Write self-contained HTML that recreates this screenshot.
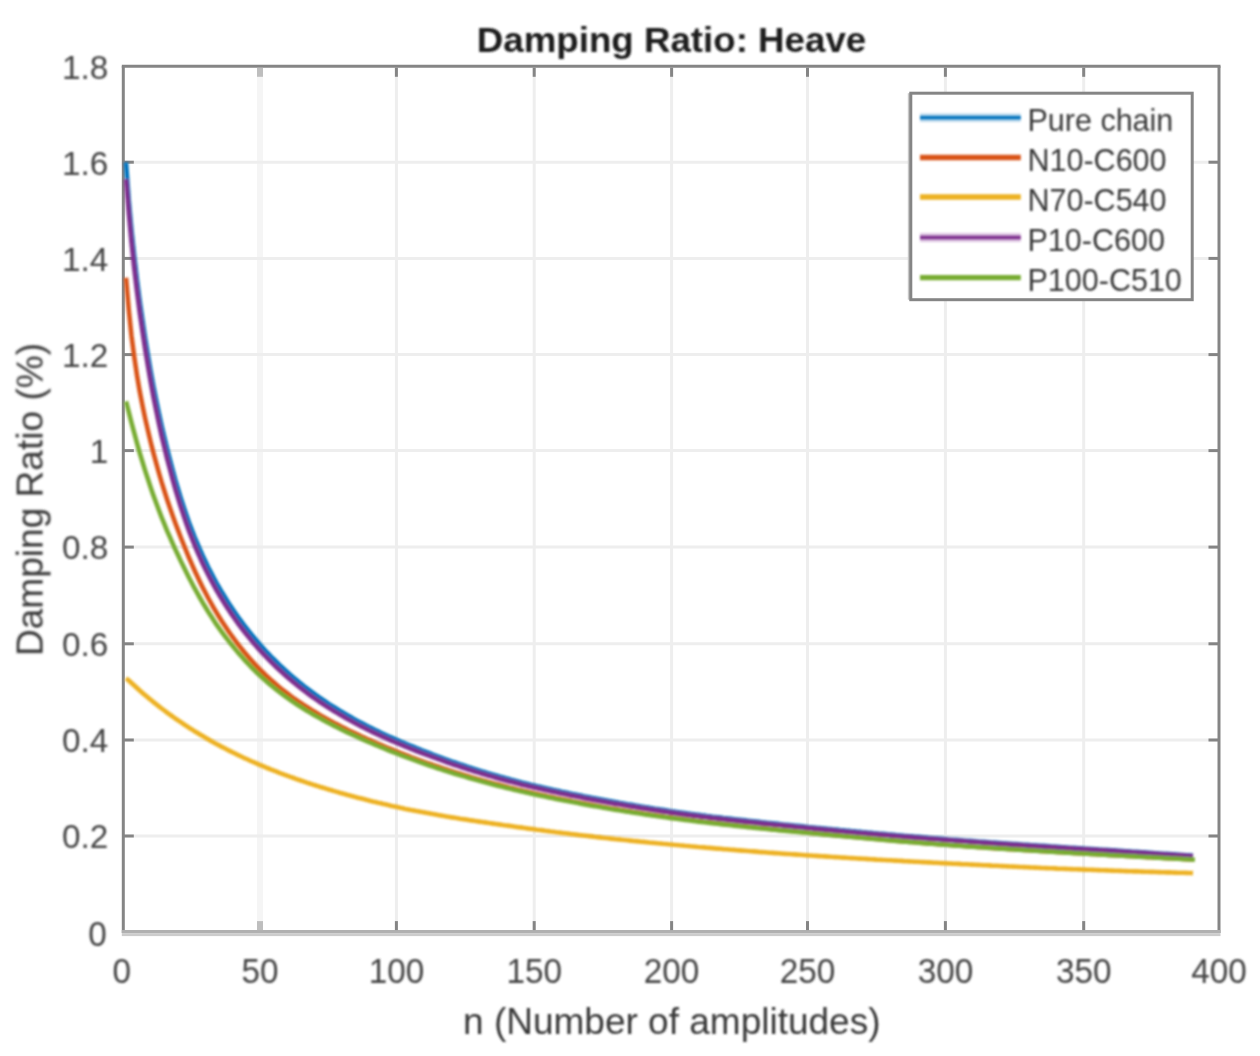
<!DOCTYPE html>
<html lang="en"><head><meta charset="utf-8"><title>Damping Ratio: Heave</title>
<style>html,body{margin:0;padding:0;background:#fff;}body{width:1260px;height:1056px;position:relative;overflow:hidden;font-family:"Liberation Sans",Arial,sans-serif;}</style>
</head><body>
<svg width="1260" height="1056" viewBox="0 0 1260 1056" style="display:block;position:absolute;left:0;top:0">
<defs><filter id="soft" filterUnits="userSpaceOnUse" x="0" y="0" width="1260" height="1056"><feGaussianBlur stdDeviation="0.8"/></filter></defs>
<rect x="0" y="0" width="1260" height="1056" fill="#ffffff"/>
<g stroke="#eeeeee" stroke-width="3" fill="none">
<line x1="260.0" y1="66.3" x2="260.0" y2="931.6" stroke="#f5f5f5" stroke-width="6"/>
<line x1="396.4" y1="66.3" x2="396.4" y2="931.6"/>
<line x1="534.2" y1="66.3" x2="534.2" y2="931.6"/>
<line x1="671.6" y1="66.3" x2="671.6" y2="931.6"/>
<line x1="807.5" y1="66.3" x2="807.5" y2="931.6"/>
<line x1="945.4" y1="66.3" x2="945.4" y2="931.6"/>
<line x1="1083.7" y1="66.3" x2="1083.7" y2="931.6"/>
<line x1="123.3" y1="836.0" x2="1219.0" y2="836.0"/>
<line x1="123.3" y1="740.0" x2="1219.0" y2="740.0"/>
<line x1="123.3" y1="643.8" x2="1219.0" y2="643.8"/>
<line x1="123.3" y1="547.1" x2="1219.0" y2="547.1"/>
<line x1="123.3" y1="450.6" x2="1219.0" y2="450.6"/>
<line x1="123.3" y1="354.6" x2="1219.0" y2="354.6"/>
<line x1="123.3" y1="258.4" x2="1219.0" y2="258.4"/>
<line x1="123.3" y1="162.2" x2="1219.0" y2="162.2"/>
</g>
<rect x="121.8" y="933.1" width="1098.7" height="3" fill="#cccccc"/>
<g stroke="#858585" stroke-width="3" fill="none">
<line x1="121.8" y1="66.3" x2="1220.5" y2="66.3"/>
<line x1="123.3" y1="66.3" x2="123.3" y2="933.1"/>
<line x1="1219.0" y1="66.3" x2="1219.0" y2="933.1"/>
<line x1="121.8" y1="931.6" x2="1220.5" y2="931.6" stroke="#b0b0b0"/>
<line x1="260.0" y1="67.8" x2="260.0" y2="76.8" stroke="#bebebe" stroke-width="6"/>
<line x1="260.0" y1="930.1" x2="260.0" y2="921.1" stroke="#bebebe" stroke-width="6"/>
<line x1="396.4" y1="67.8" x2="396.4" y2="76.8"/>
<line x1="396.4" y1="930.1" x2="396.4" y2="921.1"/>
<line x1="534.2" y1="67.8" x2="534.2" y2="76.8"/>
<line x1="534.2" y1="930.1" x2="534.2" y2="921.1"/>
<line x1="671.6" y1="67.8" x2="671.6" y2="76.8"/>
<line x1="671.6" y1="930.1" x2="671.6" y2="921.1"/>
<line x1="807.5" y1="67.8" x2="807.5" y2="76.8"/>
<line x1="807.5" y1="930.1" x2="807.5" y2="921.1"/>
<line x1="945.4" y1="67.8" x2="945.4" y2="76.8"/>
<line x1="945.4" y1="930.1" x2="945.4" y2="921.1"/>
<line x1="1083.7" y1="67.8" x2="1083.7" y2="76.8"/>
<line x1="1083.7" y1="930.1" x2="1083.7" y2="921.1"/>
<line x1="123.3" y1="836.0" x2="133.8" y2="836.0"/>
<line x1="1219.0" y1="836.0" x2="1208.5" y2="836.0"/>
<line x1="123.3" y1="740.0" x2="133.8" y2="740.0"/>
<line x1="1219.0" y1="740.0" x2="1208.5" y2="740.0"/>
<line x1="123.3" y1="643.8" x2="133.8" y2="643.8"/>
<line x1="1219.0" y1="643.8" x2="1208.5" y2="643.8"/>
<line x1="123.3" y1="547.1" x2="133.8" y2="547.1"/>
<line x1="1219.0" y1="547.1" x2="1208.5" y2="547.1"/>
<line x1="123.3" y1="450.6" x2="133.8" y2="450.6"/>
<line x1="1219.0" y1="450.6" x2="1208.5" y2="450.6"/>
<line x1="123.3" y1="354.6" x2="133.8" y2="354.6"/>
<line x1="1219.0" y1="354.6" x2="1208.5" y2="354.6"/>
<line x1="123.3" y1="258.4" x2="133.8" y2="258.4"/>
<line x1="1219.0" y1="258.4" x2="1208.5" y2="258.4"/>
<line x1="123.3" y1="162.2" x2="133.8" y2="162.2"/>
<line x1="1219.0" y1="162.2" x2="1208.5" y2="162.2"/>
</g>
<g fill="none" stroke-width="4.6" stroke-linejoin="round" stroke-linecap="butt" filter="url(#soft)">
<polyline stroke="#0072BD" points="126.0,162.4 128.8,200.6 131.5,230.1 134.3,256.6 137.0,279.8 139.7,300.7 142.5,320.1 145.2,338.3 148.0,355.4 150.7,371.3 153.4,386.2 156.2,400.1 158.9,413.3 161.6,425.7 164.4,437.6 167.1,448.8 169.9,459.6 172.6,469.9 175.3,479.8 178.1,489.2 180.8,498.1 183.6,506.7 186.3,514.8 189.0,522.5 191.8,529.8 194.5,536.8 197.3,543.4 200.0,549.7 202.7,555.8 205.5,561.6 208.2,567.2 211.0,572.6 213.7,577.8 216.4,582.8 219.2,587.6 221.9,592.3 224.7,596.8 227.4,601.2 230.1,605.4 232.9,609.5 235.6,613.5 238.3,617.4 241.1,621.2 243.8,624.8 246.6,628.4 249.3,631.9 252.0,635.3 254.8,638.6 257.5,641.8 260.3,645.0 263.0,648.0 265.7,651.0 268.5,653.9 271.2,656.8 274.0,659.5 276.7,662.2 279.4,664.9 282.2,667.5 284.9,670.0 287.7,672.5 290.4,674.9 293.1,677.2 295.9,679.5 298.6,681.8 301.4,684.0 304.1,686.2 306.8,688.3 309.6,690.4 312.3,692.4 315.0,694.4 317.8,696.3 320.5,698.3 323.3,700.1 326.0,702.0 328.7,703.8 331.5,705.6 334.2,707.3 337.0,709.0 339.7,710.7 342.4,712.3 345.2,714.0 347.9,715.6 350.7,717.1 353.4,718.7 356.1,720.2 358.9,721.7 361.6,723.1 364.4,724.6 367.1,726.0 369.8,727.4 372.6,728.7 375.3,730.1 378.1,731.4 380.8,732.7 383.5,734.0 386.3,735.3 389.0,736.5 391.7,737.7 394.5,738.9 397.2,740.1 400.0,741.3 402.7,742.5 405.4,743.6 408.2,744.8 410.9,745.9 413.7,747.0 416.4,748.1 419.1,749.2 421.9,750.3 424.6,751.4 427.4,752.5 430.1,753.5 432.8,754.6 435.6,755.6 438.3,756.6 441.1,757.7 443.8,758.7 446.5,759.6 449.3,760.6 452.0,761.6 454.7,762.5 457.5,763.5 460.2,764.4 463.0,765.3 465.7,766.2 468.4,767.1 471.2,768.0 473.9,768.9 476.7,769.8 479.4,770.6 482.1,771.5 484.9,772.3 487.6,773.1 490.4,773.9 493.1,774.7 495.8,775.5 498.6,776.3 501.3,777.1 504.1,777.8 506.8,778.6 509.5,779.3 512.3,780.1 515.0,780.8 517.8,781.5 520.5,782.2 523.2,782.9 526.0,783.6 528.7,784.2 531.4,784.9 534.2,785.5 536.9,786.2 539.7,786.8 542.4,787.4 545.1,788.1 547.9,788.7 550.6,789.3 553.4,789.9 556.1,790.5 558.8,791.1 561.6,791.7 564.3,792.2 567.1,792.8 569.8,793.4 572.5,794.0 575.3,794.5 578.0,795.1 580.8,795.6 583.5,796.2 586.2,796.7 589.0,797.2 591.7,797.8 594.5,798.3 597.2,798.8 599.9,799.3 602.7,799.8 605.4,800.3 608.1,800.8 610.9,801.3 613.6,801.8 616.4,802.3 619.1,802.8 621.8,803.2 624.6,803.7 627.3,804.2 630.1,804.6 632.8,805.1 635.5,805.6 638.3,806.0 641.0,806.5 643.8,806.9 646.5,807.4 649.2,807.8 652.0,808.2 654.7,808.7 657.5,809.1 660.2,809.5 662.9,809.9 665.7,810.3 668.4,810.7 671.1,811.2 673.9,811.6 676.6,812.0 679.4,812.4 682.1,812.7 684.8,813.1 687.6,813.5 690.3,813.9 693.1,814.2 695.8,814.6 698.5,814.9 701.3,815.3 704.0,815.6 706.8,816.0 709.5,816.3 712.2,816.7 715.0,817.0 717.7,817.3 720.5,817.6 723.2,818.0 725.9,818.3 728.7,818.6 731.4,818.9 734.2,819.2 736.9,819.5 739.6,819.8 742.4,820.1 745.1,820.4 747.8,820.7 750.6,821.0 753.3,821.3 756.1,821.6 758.8,821.9 761.5,822.2 764.3,822.5 767.0,822.8 769.8,823.0 772.5,823.3 775.2,823.6 778.0,823.9 780.7,824.2 783.5,824.5 786.2,824.7 788.9,825.0 791.7,825.3 794.4,825.6 797.2,825.8 799.9,826.1 802.6,826.4 805.4,826.7 808.1,827.0 810.9,827.2 813.6,827.5 816.3,827.8 819.1,828.0 821.8,828.3 824.5,828.6 827.3,828.9 830.0,829.1 832.8,829.4 835.5,829.6 838.2,829.9 841.0,830.2 843.7,830.4 846.5,830.7 849.2,830.9 851.9,831.2 854.7,831.4 857.4,831.7 860.2,831.9 862.9,832.2 865.6,832.4 868.4,832.7 871.1,832.9 873.9,833.2 876.6,833.4 879.3,833.7 882.1,833.9 884.8,834.1 887.6,834.4 890.3,834.6 893.0,834.8 895.8,835.1 898.5,835.3 901.2,835.5 904.0,835.8 906.7,836.0 909.5,836.2 912.2,836.4 914.9,836.7 917.7,836.9 920.4,837.1 923.2,837.3 925.9,837.5 928.6,837.8 931.4,838.0 934.1,838.2 936.9,838.4 939.6,838.6 942.3,838.8 945.1,839.0 947.8,839.3 950.6,839.5 953.3,839.7 956.0,839.9 958.8,840.1 961.5,840.3 964.2,840.5 967.0,840.7 969.7,840.9 972.5,841.1 975.2,841.3 977.9,841.5 980.7,841.7 983.4,841.9 986.2,842.1 988.9,842.3 991.6,842.5 994.4,842.6 997.1,842.8 999.9,843.0 1002.6,843.2 1005.3,843.4 1008.1,843.6 1010.8,843.8 1013.6,844.0 1016.3,844.1 1019.0,844.3 1021.8,844.5 1024.5,844.7 1027.3,844.9 1030.0,845.1 1032.7,845.2 1035.5,845.4 1038.2,845.6 1040.9,845.8 1043.7,845.9 1046.4,846.1 1049.2,846.3 1051.9,846.5 1054.6,846.6 1057.4,846.8 1060.1,847.0 1062.9,847.2 1065.6,847.3 1068.3,847.5 1071.1,847.7 1073.8,847.8 1076.6,848.0 1079.3,848.2 1082.0,848.3 1084.8,848.5 1087.5,848.7 1090.3,848.9 1093.0,849.0 1095.7,849.2 1098.5,849.4 1101.2,849.5 1104.0,849.7 1106.7,849.9 1109.4,850.1 1112.2,850.3 1114.9,850.4 1117.6,850.6 1120.4,850.8 1123.1,851.0 1125.9,851.2 1128.6,851.3 1131.3,851.5 1134.1,851.7 1136.8,851.9 1139.6,852.1 1142.3,852.3 1145.0,852.4 1147.8,852.6 1150.5,852.8 1153.3,853.0 1156.0,853.2 1158.7,853.4 1161.5,853.5 1164.2,853.7 1167.0,853.9 1169.7,854.1 1172.4,854.3 1175.2,854.4 1177.9,854.6 1180.7,854.8 1183.4,855.0 1186.1,855.2 1188.9,855.3 1191.6,855.5 1193.0,855.6"/>
<polyline stroke="#D95319" points="126.0,277.8 128.8,310.1 131.5,336.0 134.3,357.3 137.0,375.4 139.7,391.3 142.5,405.6 145.2,418.6 148.0,430.8 150.7,442.2 153.4,452.9 156.2,463.1 158.9,472.8 161.6,482.1 164.4,491.0 167.1,499.5 169.9,507.7 172.6,515.5 175.3,523.0 178.1,530.4 180.8,537.5 183.6,544.5 186.3,551.2 189.0,557.8 191.8,564.1 194.5,570.2 197.3,576.2 200.0,581.9 202.7,587.4 205.5,592.8 208.2,598.0 211.0,603.0 213.7,607.8 216.4,612.4 219.2,617.0 221.9,621.3 224.7,625.5 227.4,629.6 230.1,633.5 232.9,637.3 235.6,641.0 238.3,644.6 241.1,648.1 243.8,651.5 246.6,654.7 249.3,657.9 252.0,661.0 254.8,664.1 257.5,667.0 260.3,669.8 263.0,672.5 265.7,675.2 268.5,677.8 271.2,680.2 274.0,682.6 276.7,685.0 279.4,687.3 282.2,689.5 284.9,691.6 287.7,693.7 290.4,695.8 293.1,697.8 295.9,699.7 298.6,701.6 301.4,703.5 304.1,705.3 306.8,707.0 309.6,708.8 312.3,710.5 315.0,712.1 317.8,713.8 320.5,715.4 323.3,717.0 326.0,718.5 328.7,720.0 331.5,721.5 334.2,723.0 337.0,724.4 339.7,725.8 342.4,727.2 345.2,728.6 347.9,730.0 350.7,731.3 353.4,732.6 356.1,733.9 358.9,735.2 361.6,736.5 364.4,737.7 367.1,739.0 369.8,740.2 372.6,741.4 375.3,742.6 378.1,743.8 380.8,744.9 383.5,746.1 386.3,747.3 389.0,748.4 391.7,749.5 394.5,750.6 397.2,751.7 400.0,752.8 402.7,753.9 405.4,755.0 408.2,756.0 410.9,757.1 413.7,758.1 416.4,759.1 419.1,760.1 421.9,761.1 424.6,762.1 427.4,763.1 430.1,764.0 432.8,765.0 435.6,765.9 438.3,766.8 441.1,767.7 443.8,768.6 446.5,769.5 449.3,770.4 452.0,771.3 454.7,772.1 457.5,773.0 460.2,773.8 463.0,774.6 465.7,775.5 468.4,776.3 471.2,777.1 473.9,777.9 476.7,778.7 479.4,779.4 482.1,780.2 484.9,780.9 487.6,781.7 490.4,782.4 493.1,783.2 495.8,783.9 498.6,784.6 501.3,785.3 504.1,786.0 506.8,786.7 509.5,787.4 512.3,788.0 515.0,788.7 517.8,789.4 520.5,790.0 523.2,790.7 526.0,791.3 528.7,791.9 531.4,792.5 534.2,793.2 536.9,793.8 539.7,794.4 542.4,795.0 545.1,795.6 547.9,796.2 550.6,796.7 553.4,797.3 556.1,797.9 558.8,798.4 561.6,799.0 564.3,799.5 567.1,800.1 569.8,800.6 572.5,801.2 575.3,801.7 578.0,802.2 580.8,802.8 583.5,803.3 586.2,803.8 589.0,804.3 591.7,804.8 594.5,805.3 597.2,805.8 599.9,806.3 602.7,806.8 605.4,807.2 608.1,807.7 610.9,808.2 613.6,808.6 616.4,809.1 619.1,809.6 621.8,810.0 624.6,810.4 627.3,810.9 630.1,811.3 632.8,811.8 635.5,812.2 638.3,812.6 641.0,813.0 643.8,813.5 646.5,813.9 649.2,814.3 652.0,814.7 654.7,815.1 657.5,815.5 660.2,815.9 662.9,816.3 665.7,816.7 668.4,817.0 671.1,817.4 673.9,817.8 676.6,818.2 679.4,818.5 682.1,818.9 684.8,819.3 687.6,819.6 690.3,820.0 693.1,820.3 695.8,820.7 698.5,821.0 701.3,821.3 704.0,821.7 706.8,822.0 709.5,822.3 712.2,822.6 715.0,823.0 717.7,823.3 720.5,823.6 723.2,823.9 725.9,824.2 728.7,824.5 731.4,824.8 734.2,825.1 736.9,825.4 739.6,825.7 742.4,826.0 745.1,826.3 747.8,826.6 750.6,826.9 753.3,827.2 756.1,827.5 758.8,827.7 761.5,828.0 764.3,828.3 767.0,828.6 769.8,828.9 772.5,829.1 775.2,829.4 778.0,829.7 780.7,830.0 783.5,830.2 786.2,830.5 788.9,830.8 791.7,831.0 794.4,831.3 797.2,831.6 799.9,831.8 802.6,832.1 805.4,832.3 808.1,832.6 810.9,832.9 813.6,833.1 816.3,833.4 819.1,833.6 821.8,833.9 824.5,834.2 827.3,834.4 830.0,834.7 832.8,834.9 835.5,835.2 838.2,835.4 841.0,835.7 843.7,836.0 846.5,836.2 849.2,836.5 851.9,836.7 854.7,837.0 857.4,837.2 860.2,837.5 862.9,837.7 865.6,838.0 868.4,838.2 871.1,838.5 873.9,838.7 876.6,839.0 879.3,839.2 882.1,839.5 884.8,839.7 887.6,840.0 890.3,840.2 893.0,840.4 895.8,840.7 898.5,840.9 901.2,841.1 904.0,841.4 906.7,841.6 909.5,841.8 912.2,842.0 914.9,842.3 917.7,842.5 920.4,842.7 923.2,842.9 925.9,843.2 928.6,843.4 931.4,843.6 934.1,843.8 936.9,844.0 939.6,844.2 942.3,844.4 945.1,844.6 947.8,844.8 950.6,845.0 953.3,845.2 956.0,845.4 958.8,845.6 961.5,845.8 964.2,846.0 967.0,846.2 969.7,846.4 972.5,846.6 975.2,846.8 977.9,847.0 980.7,847.1 983.4,847.3 986.2,847.5 988.9,847.7 991.6,847.9 994.4,848.1 997.1,848.2 999.9,848.4 1002.6,848.6 1005.3,848.8 1008.1,848.9 1010.8,849.1 1013.6,849.3 1016.3,849.5 1019.0,849.6 1021.8,849.8 1024.5,850.0 1027.3,850.2 1030.0,850.3 1032.7,850.5 1035.5,850.7 1038.2,850.8 1040.9,851.0 1043.7,851.2 1046.4,851.3 1049.2,851.5 1051.9,851.6 1054.6,851.8 1057.4,852.0 1060.1,852.1 1062.9,852.3 1065.6,852.5 1068.3,852.6 1071.1,852.8 1073.8,852.9 1076.6,853.1 1079.3,853.3 1082.0,853.4 1084.8,853.6 1087.5,853.7 1090.3,853.9 1093.0,854.0 1095.7,854.2 1098.5,854.4 1101.2,854.5 1104.0,854.7 1106.7,854.8 1109.4,855.0 1112.2,855.1 1114.9,855.3 1117.6,855.4 1120.4,855.6 1123.1,855.7 1125.9,855.9 1128.6,856.0 1131.3,856.2 1134.1,856.3 1136.8,856.5 1139.6,856.6 1142.3,856.8 1145.0,856.9 1147.8,857.1 1150.5,857.2 1153.3,857.4 1156.0,857.5 1158.7,857.7 1161.5,857.8 1164.2,858.0 1167.0,858.1 1169.7,858.3 1172.4,858.4 1175.2,858.6 1177.9,858.7 1180.7,858.8 1183.4,859.0 1186.1,859.1 1188.9,859.3 1191.6,859.4 1193.0,859.5"/>
<polyline stroke="#EDB120" points="126.0,678.3 128.8,680.5 131.5,683.0 134.3,685.5 137.0,688.0 139.7,690.5 142.5,692.9 145.2,695.2 148.0,697.6 150.7,699.8 153.4,702.1 156.2,704.2 158.9,706.4 161.6,708.5 164.4,710.5 167.1,712.6 169.9,714.6 172.6,716.5 175.3,718.5 178.1,720.4 180.8,722.2 183.6,724.1 186.3,725.9 189.0,727.7 191.8,729.4 194.5,731.2 197.3,732.8 200.0,734.5 202.7,736.1 205.5,737.7 208.2,739.3 211.0,740.9 213.7,742.4 216.4,743.9 219.2,745.4 221.9,746.9 224.7,748.3 227.4,749.7 230.1,751.1 232.9,752.5 235.6,753.8 238.3,755.2 241.1,756.5 243.8,757.8 246.6,759.0 249.3,760.3 252.0,761.5 254.8,762.7 257.5,763.9 260.3,765.1 263.0,766.2 265.7,767.4 268.5,768.5 271.2,769.6 274.0,770.7 276.7,771.7 279.4,772.8 282.2,773.8 284.9,774.8 287.7,775.9 290.4,776.9 293.1,777.8 295.9,778.8 298.6,779.8 301.4,780.7 304.1,781.6 306.8,782.6 309.6,783.5 312.3,784.4 315.0,785.2 317.8,786.1 320.5,787.0 323.3,787.8 326.0,788.6 328.7,789.5 331.5,790.3 334.2,791.1 337.0,791.9 339.7,792.7 342.4,793.4 345.2,794.2 347.9,795.0 350.7,795.7 353.4,796.4 356.1,797.2 358.9,797.9 361.6,798.6 364.4,799.3 367.1,800.0 369.8,800.7 372.6,801.4 375.3,802.0 378.1,802.7 380.8,803.3 383.5,804.0 386.3,804.6 389.0,805.2 391.7,805.9 394.5,806.5 397.2,807.1 400.0,807.7 402.7,808.3 405.4,808.9 408.2,809.4 410.9,810.0 413.7,810.5 416.4,811.1 419.1,811.6 421.9,812.1 424.6,812.6 427.4,813.1 430.1,813.6 432.8,814.1 435.6,814.6 438.3,815.1 441.1,815.5 443.8,816.0 446.5,816.5 449.3,816.9 452.0,817.4 454.7,817.8 457.5,818.2 460.2,818.7 463.0,819.1 465.7,819.5 468.4,819.9 471.2,820.4 473.9,820.8 476.7,821.2 479.4,821.6 482.1,822.0 484.9,822.4 487.6,822.8 490.4,823.2 493.1,823.6 495.8,824.0 498.6,824.4 501.3,824.8 504.1,825.2 506.8,825.5 509.5,825.9 512.3,826.3 515.0,826.7 517.8,827.1 520.5,827.4 523.2,827.8 526.0,828.2 528.7,828.6 531.4,828.9 534.2,829.3 536.9,829.7 539.7,830.0 542.4,830.4 545.1,830.8 547.9,831.1 550.6,831.5 553.4,831.8 556.1,832.2 558.8,832.5 561.6,832.9 564.3,833.2 567.1,833.5 569.8,833.9 572.5,834.2 575.3,834.5 578.0,834.9 580.8,835.2 583.5,835.5 586.2,835.8 589.0,836.1 591.7,836.4 594.5,836.8 597.2,837.1 599.9,837.4 602.7,837.7 605.4,838.0 608.1,838.3 610.9,838.6 613.6,838.9 616.4,839.2 619.1,839.4 621.8,839.7 624.6,840.0 627.3,840.3 630.1,840.6 632.8,840.9 635.5,841.1 638.3,841.4 641.0,841.7 643.8,841.9 646.5,842.2 649.2,842.5 652.0,842.7 654.7,843.0 657.5,843.3 660.2,843.5 662.9,843.8 665.7,844.0 668.4,844.3 671.1,844.5 673.9,844.8 676.6,845.0 679.4,845.3 682.1,845.5 684.8,845.8 687.6,846.0 690.3,846.3 693.1,846.5 695.8,846.7 698.5,847.0 701.3,847.2 704.0,847.4 706.8,847.7 709.5,847.9 712.2,848.1 715.0,848.4 717.7,848.6 720.5,848.8 723.2,849.1 725.9,849.3 728.7,849.5 731.4,849.7 734.2,849.9 736.9,850.2 739.6,850.4 742.4,850.6 745.1,850.8 747.8,851.0 750.6,851.2 753.3,851.4 756.1,851.6 758.8,851.9 761.5,852.1 764.3,852.3 767.0,852.5 769.8,852.7 772.5,852.9 775.2,853.1 778.0,853.3 780.7,853.5 783.5,853.7 786.2,853.9 788.9,854.0 791.7,854.2 794.4,854.4 797.2,854.6 799.9,854.8 802.6,855.0 805.4,855.2 808.1,855.4 810.9,855.5 813.6,855.7 816.3,855.9 819.1,856.1 821.8,856.3 824.5,856.4 827.3,856.6 830.0,856.8 832.8,857.0 835.5,857.1 838.2,857.3 841.0,857.5 843.7,857.6 846.5,857.8 849.2,858.0 851.9,858.1 854.7,858.3 857.4,858.5 860.2,858.6 862.9,858.8 865.6,858.9 868.4,859.1 871.1,859.3 873.9,859.4 876.6,859.6 879.3,859.7 882.1,859.9 884.8,860.0 887.6,860.2 890.3,860.3 893.0,860.5 895.8,860.6 898.5,860.8 901.2,860.9 904.0,861.1 906.7,861.2 909.5,861.4 912.2,861.5 914.9,861.7 917.7,861.8 920.4,862.0 923.2,862.1 925.9,862.3 928.6,862.4 931.4,862.5 934.1,862.7 936.9,862.8 939.6,863.0 942.3,863.1 945.1,863.2 947.8,863.4 950.6,863.5 953.3,863.7 956.0,863.8 958.8,863.9 961.5,864.1 964.2,864.2 967.0,864.3 969.7,864.5 972.5,864.6 975.2,864.8 977.9,864.9 980.7,865.0 983.4,865.2 986.2,865.3 988.9,865.4 991.6,865.6 994.4,865.7 997.1,865.8 999.9,866.0 1002.6,866.1 1005.3,866.2 1008.1,866.4 1010.8,866.5 1013.6,866.6 1016.3,866.7 1019.0,866.9 1021.8,867.0 1024.5,867.1 1027.3,867.2 1030.0,867.4 1032.7,867.5 1035.5,867.6 1038.2,867.7 1040.9,867.9 1043.7,868.0 1046.4,868.1 1049.2,868.2 1051.9,868.3 1054.6,868.4 1057.4,868.6 1060.1,868.7 1062.9,868.8 1065.6,868.9 1068.3,869.0 1071.1,869.1 1073.8,869.2 1076.6,869.3 1079.3,869.4 1082.0,869.5 1084.8,869.6 1087.5,869.7 1090.3,869.8 1093.0,869.9 1095.7,870.0 1098.5,870.1 1101.2,870.2 1104.0,870.3 1106.7,870.4 1109.4,870.5 1112.2,870.6 1114.9,870.7 1117.6,870.8 1120.4,870.9 1123.1,871.0 1125.9,871.1 1128.6,871.2 1131.3,871.3 1134.1,871.4 1136.8,871.4 1139.6,871.5 1142.3,871.6 1145.0,871.7 1147.8,871.8 1150.5,871.9 1153.3,871.9 1156.0,872.0 1158.7,872.1 1161.5,872.2 1164.2,872.3 1167.0,872.4 1169.7,872.4 1172.4,872.5 1175.2,872.6 1177.9,872.7 1180.7,872.7 1183.4,872.8 1186.1,872.9 1188.9,873.0 1191.6,873.0 1193.0,873.1"/>
<polyline stroke="#7E2F8E" points="126.0,179.3 128.8,213.1 131.5,242.4 134.3,268.7 137.0,291.7 139.7,312.4 142.5,331.6 145.2,349.5 148.0,366.4 150.7,382.1 153.4,396.8 156.2,410.6 158.9,423.6 161.6,435.9 164.4,447.5 167.1,458.6 169.9,469.2 172.6,479.4 175.3,489.1 178.1,498.3 180.8,507.1 183.6,515.5 186.3,523.5 189.0,531.0 191.8,538.2 194.5,545.0 197.3,551.5 200.0,557.7 202.7,563.7 205.5,569.4 208.2,574.8 211.0,580.1 213.7,585.2 216.4,590.1 219.2,594.8 221.9,599.3 224.7,603.7 227.4,608.0 230.1,612.1 232.9,616.1 235.6,620.0 238.3,623.8 241.1,627.5 243.8,631.0 246.6,634.5 249.3,637.9 252.0,641.2 254.8,644.4 257.5,647.6 260.3,650.7 263.0,653.6 265.7,656.5 268.5,659.4 271.2,662.1 274.0,664.8 276.7,667.5 279.4,670.0 282.2,672.5 284.9,675.0 287.7,677.4 290.4,679.7 293.1,682.0 295.9,684.3 298.6,686.5 301.4,688.6 304.1,690.7 306.8,692.8 309.6,694.8 312.3,696.8 315.0,698.7 317.8,700.6 320.5,702.5 323.3,704.3 326.0,706.1 328.7,707.8 331.5,709.6 334.2,711.2 337.0,712.9 339.7,714.5 342.4,716.1 345.2,717.7 347.9,719.3 350.7,720.8 353.4,722.3 356.1,723.7 358.9,725.2 361.6,726.6 364.4,728.0 367.1,729.4 369.8,730.7 372.6,732.1 375.3,733.4 378.1,734.7 380.8,735.9 383.5,737.2 386.3,738.4 389.0,739.6 391.7,740.8 394.5,742.0 397.2,743.2 400.0,744.3 402.7,745.4 405.4,746.6 408.2,747.7 410.9,748.8 413.7,749.9 416.4,751.0 419.1,752.0 421.9,753.1 424.6,754.2 427.4,755.2 430.1,756.2 432.8,757.2 435.6,758.2 438.3,759.2 441.1,760.2 443.8,761.2 446.5,762.2 449.3,763.1 452.0,764.1 454.7,765.0 457.5,765.9 460.2,766.8 463.0,767.7 465.7,768.6 468.4,769.5 471.2,770.4 473.9,771.2 476.7,772.1 479.4,772.9 482.1,773.7 484.9,774.5 487.6,775.4 490.4,776.1 493.1,776.9 495.8,777.7 498.6,778.5 501.3,779.2 504.1,780.0 506.8,780.7 509.5,781.4 512.3,782.1 515.0,782.8 517.8,783.5 520.5,784.2 523.2,784.9 526.0,785.5 528.7,786.2 531.4,786.8 534.2,787.5 536.9,788.1 539.7,788.7 542.4,789.3 545.1,790.0 547.9,790.6 550.6,791.2 553.4,791.7 556.1,792.3 558.8,792.9 561.6,793.5 564.3,794.0 567.1,794.6 569.8,795.2 572.5,795.7 575.3,796.3 578.0,796.8 580.8,797.3 583.5,797.9 586.2,798.4 589.0,798.9 591.7,799.4 594.5,799.9 597.2,800.5 599.9,801.0 602.7,801.5 605.4,801.9 608.1,802.4 610.9,802.9 613.6,803.4 616.4,803.9 619.1,804.3 621.8,804.8 624.6,805.3 627.3,805.7 630.1,806.2 632.8,806.6 635.5,807.1 638.3,807.5 641.0,808.0 643.8,808.4 646.5,808.8 649.2,809.3 652.0,809.7 654.7,810.1 657.5,810.5 660.2,810.9 662.9,811.4 665.7,811.8 668.4,812.2 671.1,812.6 673.9,813.0 676.6,813.4 679.4,813.7 682.1,814.1 684.8,814.5 687.6,814.9 690.3,815.2 693.1,815.6 695.8,815.9 698.5,816.3 701.3,816.6 704.0,817.0 706.8,817.3 709.5,817.6 712.2,818.0 715.0,818.3 717.7,818.6 720.5,818.9 723.2,819.2 725.9,819.5 728.7,819.9 731.4,820.2 734.2,820.5 736.9,820.8 739.6,821.1 742.4,821.4 745.1,821.7 747.8,821.9 750.6,822.2 753.3,822.5 756.1,822.8 758.8,823.1 761.5,823.4 764.3,823.7 767.0,823.9 769.8,824.2 772.5,824.5 775.2,824.8 778.0,825.0 780.7,825.3 783.5,825.6 786.2,825.9 788.9,826.1 791.7,826.4 794.4,826.7 797.2,827.0 799.9,827.2 802.6,827.5 805.4,827.8 808.1,828.1 810.9,828.3 813.6,828.6 816.3,828.9 819.1,829.1 821.8,829.4 824.5,829.7 827.3,829.9 830.0,830.2 832.8,830.4 835.5,830.7 838.2,831.0 841.0,831.2 843.7,831.5 846.5,831.7 849.2,832.0 851.9,832.2 854.7,832.5 857.4,832.7 860.2,833.0 862.9,833.2 865.6,833.4 868.4,833.7 871.1,833.9 873.9,834.2 876.6,834.4 879.3,834.6 882.1,834.9 884.8,835.1 887.6,835.3 890.3,835.6 893.0,835.8 895.8,836.0 898.5,836.3 901.2,836.5 904.0,836.7 906.7,836.9 909.5,837.1 912.2,837.4 914.9,837.6 917.7,837.8 920.4,838.0 923.2,838.2 925.9,838.5 928.6,838.7 931.4,838.9 934.1,839.1 936.9,839.3 939.6,839.5 942.3,839.7 945.1,839.9 947.8,840.1 950.6,840.3 953.3,840.5 956.0,840.7 958.8,840.9 961.5,841.1 964.2,841.3 967.0,841.5 969.7,841.7 972.5,841.9 975.2,842.1 977.9,842.3 980.7,842.5 983.4,842.7 986.2,842.9 988.9,843.1 991.6,843.3 994.4,843.5 997.1,843.7 999.9,843.8 1002.6,844.0 1005.3,844.2 1008.1,844.4 1010.8,844.6 1013.6,844.8 1016.3,844.9 1019.0,845.1 1021.8,845.3 1024.5,845.5 1027.3,845.7 1030.0,845.8 1032.7,846.0 1035.5,846.2 1038.2,846.4 1040.9,846.5 1043.7,846.7 1046.4,846.9 1049.2,847.0 1051.9,847.2 1054.6,847.4 1057.4,847.6 1060.1,847.7 1062.9,847.9 1065.6,848.1 1068.3,848.2 1071.1,848.4 1073.8,848.6 1076.6,848.7 1079.3,848.9 1082.0,849.1 1084.8,849.2 1087.5,849.4 1090.3,849.6 1093.0,849.7 1095.7,849.9 1098.5,850.1 1101.2,850.2 1104.0,850.4 1106.7,850.6 1109.4,850.8 1112.2,850.9 1114.9,851.1 1117.6,851.3 1120.4,851.5 1123.1,851.7 1125.9,851.8 1128.6,852.0 1131.3,852.2 1134.1,852.4 1136.8,852.5 1139.6,852.7 1142.3,852.9 1145.0,853.1 1147.8,853.3 1150.5,853.5 1153.3,853.6 1156.0,853.8 1158.7,854.0 1161.5,854.2 1164.2,854.4 1167.0,854.5 1169.7,854.7 1172.4,854.9 1175.2,855.1 1177.9,855.2 1180.7,855.4 1183.4,855.6 1186.1,855.8 1188.9,856.0 1191.6,856.1 1193.0,856.2"/>
<polyline stroke="#77AC30" points="126.0,401.4 128.8,412.1 131.5,422.8 134.3,433.2 137.0,443.2 139.7,452.8 142.5,462.0 145.2,470.8 148.0,479.3 150.7,487.5 153.4,495.4 156.2,503.0 158.9,510.3 161.6,517.4 164.4,524.2 167.1,530.8 169.9,537.2 172.6,543.4 175.3,549.4 178.1,555.3 180.8,561.1 183.6,566.8 186.3,572.3 189.0,577.7 191.8,583.0 194.5,588.2 197.3,593.2 200.0,598.0 202.7,602.7 205.5,607.3 208.2,611.8 211.0,616.1 213.7,620.3 216.4,624.4 219.2,628.3 221.9,632.1 224.7,635.9 227.4,639.4 230.1,642.9 232.9,646.3 235.6,649.6 238.3,652.9 241.1,656.0 243.8,659.1 246.6,662.1 249.3,665.0 252.0,667.8 254.8,670.6 257.5,673.3 260.3,675.9 263.0,678.4 265.7,680.8 268.5,683.2 271.2,685.5 274.0,687.7 276.7,689.9 279.4,692.0 282.2,694.1 284.9,696.1 287.7,698.1 290.4,700.0 293.1,701.9 295.9,703.7 298.6,705.5 301.4,707.3 304.1,709.0 306.8,710.7 309.6,712.3 312.3,713.9 315.0,715.5 317.8,717.1 320.5,718.6 323.3,720.1 326.0,721.6 328.7,723.0 331.5,724.5 334.2,725.9 337.0,727.3 339.7,728.6 342.4,730.0 345.2,731.3 347.9,732.6 350.7,733.9 353.4,735.2 356.1,736.4 358.9,737.7 361.6,738.9 364.4,740.1 367.1,741.3 369.8,742.5 372.6,743.7 375.3,744.8 378.1,746.0 380.8,747.1 383.5,748.2 386.3,749.4 389.0,750.5 391.7,751.6 394.5,752.7 397.2,753.7 400.0,754.8 402.7,755.9 405.4,756.9 408.2,757.9 410.9,758.9 413.7,759.9 416.4,760.9 419.1,761.9 421.9,762.9 424.6,763.8 427.4,764.8 430.1,765.7 432.8,766.6 435.6,767.6 438.3,768.5 441.1,769.4 443.8,770.2 446.5,771.1 449.3,772.0 452.0,772.8 454.7,773.7 457.5,774.5 460.2,775.3 463.0,776.1 465.7,776.9 468.4,777.7 471.2,778.5 473.9,779.3 476.7,780.0 479.4,780.8 482.1,781.5 484.9,782.3 487.6,783.0 490.4,783.7 493.1,784.5 495.8,785.2 498.6,785.9 501.3,786.6 504.1,787.2 506.8,787.9 509.5,788.6 512.3,789.2 515.0,789.9 517.8,790.5 520.5,791.2 523.2,791.8 526.0,792.4 528.7,793.0 531.4,793.7 534.2,794.3 536.9,794.9 539.7,795.4 542.4,796.0 545.1,796.6 547.9,797.2 550.6,797.8 553.4,798.3 556.1,798.9 558.8,799.4 561.6,800.0 564.3,800.5 567.1,801.1 569.8,801.6 572.5,802.1 575.3,802.6 578.0,803.1 580.8,803.7 583.5,804.2 586.2,804.7 589.0,805.2 591.7,805.7 594.5,806.1 597.2,806.6 599.9,807.1 602.7,807.6 605.4,808.0 608.1,808.5 610.9,809.0 613.6,809.4 616.4,809.9 619.1,810.3 621.8,810.8 624.6,811.2 627.3,811.6 630.1,812.1 632.8,812.5 635.5,812.9 638.3,813.3 641.0,813.8 643.8,814.2 646.5,814.6 649.2,815.0 652.0,815.4 654.7,815.8 657.5,816.2 660.2,816.5 662.9,816.9 665.7,817.3 668.4,817.7 671.1,818.1 673.9,818.4 676.6,818.8 679.4,819.1 682.1,819.5 684.8,819.9 687.6,820.2 690.3,820.5 693.1,820.9 695.8,821.2 698.5,821.6 701.3,821.9 704.0,822.2 706.8,822.5 709.5,822.9 712.2,823.2 715.0,823.5 717.7,823.8 720.5,824.1 723.2,824.4 725.9,824.7 728.7,825.0 731.4,825.3 734.2,825.6 736.9,825.9 739.6,826.2 742.4,826.5 745.1,826.8 747.8,827.1 750.6,827.3 753.3,827.6 756.1,827.9 758.8,828.2 761.5,828.5 764.3,828.7 767.0,829.0 769.8,829.3 772.5,829.6 775.2,829.8 778.0,830.1 780.7,830.4 783.5,830.6 786.2,830.9 788.9,831.1 791.7,831.4 794.4,831.7 797.2,831.9 799.9,832.2 802.6,832.4 805.4,832.7 808.1,833.0 810.9,833.2 813.6,833.5 816.3,833.7 819.1,834.0 821.8,834.2 824.5,834.5 827.3,834.7 830.0,835.0 832.8,835.3 835.5,835.5 838.2,835.8 841.0,836.0 843.7,836.3 846.5,836.5 849.2,836.8 851.9,837.0 854.7,837.3 857.4,837.5 860.2,837.8 862.9,838.0 865.6,838.3 868.4,838.5 871.1,838.8 873.9,839.0 876.6,839.3 879.3,839.5 882.1,839.7 884.8,840.0 887.6,840.2 890.3,840.4 893.0,840.7 895.8,840.9 898.5,841.1 901.2,841.4 904.0,841.6 906.7,841.8 909.5,842.1 912.2,842.3 914.9,842.5 917.7,842.7 920.4,842.9 923.2,843.2 925.9,843.4 928.6,843.6 931.4,843.8 934.1,844.0 936.9,844.2 939.6,844.4 942.3,844.6 945.1,844.8 947.8,845.0 950.6,845.2 953.3,845.4 956.0,845.6 958.8,845.8 961.5,846.0 964.2,846.2 967.0,846.4 969.7,846.6 972.5,846.8 975.2,847.0 977.9,847.1 980.7,847.3 983.4,847.5 986.2,847.7 988.9,847.9 991.6,848.0 994.4,848.2 997.1,848.4 999.9,848.6 1002.6,848.8 1005.3,848.9 1008.1,849.1 1010.8,849.3 1013.6,849.5 1016.3,849.6 1019.0,849.8 1021.8,850.0 1024.5,850.1 1027.3,850.3 1030.0,850.5 1032.7,850.6 1035.5,850.8 1038.2,851.0 1040.9,851.1 1043.7,851.3 1046.4,851.5 1049.2,851.6 1051.9,851.8 1054.6,851.9 1057.4,852.1 1060.1,852.3 1062.9,852.4 1065.6,852.6 1068.3,852.7 1071.1,852.9 1073.8,853.1 1076.6,853.2 1079.3,853.4 1082.0,853.5 1084.8,853.7 1087.5,853.8 1090.3,854.0 1093.0,854.2 1095.7,854.3 1098.5,854.5 1101.2,854.6 1104.0,854.8 1106.7,854.9 1109.4,855.1 1112.2,855.2 1114.9,855.4 1117.6,855.5 1120.4,855.7 1123.1,855.8 1125.9,856.0 1128.6,856.1 1131.3,856.3 1134.1,856.4 1136.8,856.6 1139.6,856.7 1142.3,856.9 1145.0,857.0 1147.8,857.2 1150.5,857.3 1153.3,857.5 1156.0,857.6 1158.7,857.8 1161.5,857.9 1164.2,858.1 1167.0,858.2 1169.7,858.4 1172.4,858.5 1175.2,858.6 1177.9,858.8 1180.7,858.9 1183.4,859.1 1186.1,859.2 1188.9,859.4 1191.6,859.5 1194.9,859.7"/>
</g>
<g font-family="Liberation Sans, Arial, Helvetica, sans-serif" fill="#383838" filter="url(#soft)">
<text transform="translate(671.5,52) scale(1,0.94)" font-size="36.7" font-weight="bold" text-anchor="middle" fill="#1a1a1a">Damping Ratio: Heave</text>
<text x="671.8" y="1034" font-size="37" text-anchor="middle">n (Number of amplitudes)</text>
<text transform="translate(42.6,499.5) rotate(-90)" font-size="37.1" text-anchor="middle">Damping Ratio (%)</text>
<text transform="translate(121.8,983.3) scale(1,1.07)" font-size="33.3" text-anchor="middle" fill="#444444">0</text>
<text transform="translate(260.0,983.3) scale(1,1.07)" font-size="33.3" text-anchor="middle" fill="#444444">50</text>
<text transform="translate(396.4,983.3) scale(1,1.07)" font-size="33.3" text-anchor="middle" fill="#444444">100</text>
<text transform="translate(534.2,983.3) scale(1,1.07)" font-size="33.3" text-anchor="middle" fill="#444444">150</text>
<text transform="translate(671.6,983.3) scale(1,1.07)" font-size="33.3" text-anchor="middle" fill="#444444">200</text>
<text transform="translate(807.5,983.3) scale(1,1.07)" font-size="33.3" text-anchor="middle" fill="#444444">250</text>
<text transform="translate(945.4,983.3) scale(1,1.07)" font-size="33.3" text-anchor="middle" fill="#444444">300</text>
<text transform="translate(1083.7,983.3) scale(1,1.07)" font-size="33.3" text-anchor="middle" fill="#444444">350</text>
<text transform="translate(1219.0,983.3) scale(1,1.07)" font-size="33.3" text-anchor="middle" fill="#444444">400</text>
<text transform="translate(106.8,945.7) scale(1,1.07)" font-size="33.3" text-anchor="end" fill="#444444">0</text>
<text x="108.2" y="848.3" font-size="33.3" text-anchor="end" fill="#444444">0.2</text>
<text x="108.2" y="752.3" font-size="33.3" text-anchor="end" fill="#444444">0.4</text>
<text x="108.2" y="656.1" font-size="33.3" text-anchor="end" fill="#444444">0.6</text>
<text x="108.2" y="559.4" font-size="33.3" text-anchor="end" fill="#444444">0.8</text>
<text x="108.2" y="462.9" font-size="33.3" text-anchor="end" fill="#444444">1</text>
<text x="108.2" y="366.9" font-size="33.3" text-anchor="end" fill="#444444">1.2</text>
<text x="108.2" y="270.7" font-size="33.3" text-anchor="end" fill="#444444">1.4</text>
<text x="108.2" y="174.5" font-size="33.3" text-anchor="end" fill="#444444">1.6</text>
<text x="108.2" y="78.6" font-size="33.3" text-anchor="end" fill="#444444">1.8</text>
</g>
<rect x="907.8" y="93.2" width="3" height="206.5" fill="#c8c8c8"/>
<rect x="910.8" y="93.2" width="281.4" height="206.5" fill="#ffffff" stroke="#858585" stroke-width="3"/>
<g font-family="Liberation Sans, Arial, Helvetica, sans-serif" fill="#383838" font-size="30.5" filter="url(#soft)">
<line x1="920" y1="117.6" x2="1020.8" y2="117.6" stroke="#0072BD" stroke-width="8.4" stroke-opacity="0.3"/>
<line x1="920" y1="117.6" x2="1020.8" y2="117.6" stroke="#0072BD" stroke-width="3.4"/>
<text x="1027.5" y="131.4">Pure chain</text>
<line x1="920" y1="157.5" x2="1020.8" y2="157.5" stroke="#D95319" stroke-width="5.4"/>
<text x="1027.5" y="171.3">N10-C600</text>
<line x1="920" y1="197.0" x2="1020.8" y2="197.0" stroke="#EDB120" stroke-width="5.4"/>
<text x="1027.5" y="210.8">N70-C540</text>
<line x1="920" y1="237.5" x2="1020.8" y2="237.5" stroke="#7E2F8E" stroke-width="8.4" stroke-opacity="0.3"/>
<line x1="920" y1="237.5" x2="1020.8" y2="237.5" stroke="#7E2F8E" stroke-width="3.4"/>
<text x="1027.5" y="251.3">P10-C600</text>
<line x1="920" y1="277.6" x2="1020.8" y2="277.6" stroke="#77AC30" stroke-width="5.4"/>
<text x="1027.5" y="291.4">P100-C510</text>
</g>
</svg>
</body></html>
